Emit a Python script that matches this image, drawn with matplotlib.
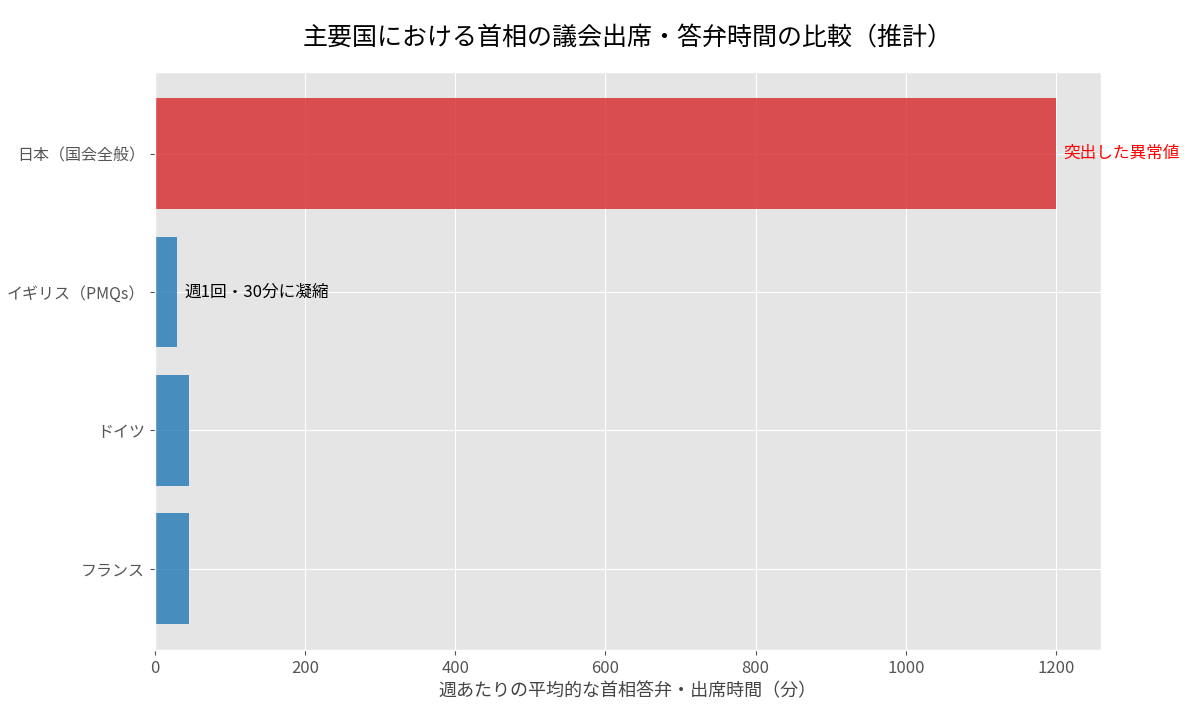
import matplotlib.pyplot as plt

plt.style.use("ggplot")
plt.rcParams["font.family"] = ["Noto Sans CJK JP", "DejaVu Sans"]

# Data
countries = ["日本（国会全般）", "イギリス（PMQs）", "ドイツ", "フランス"]
minutes = [1200, 30, 45, 45]
colors = ["#d62728", "#1f77b4", "#1f77b4", "#1f77b4"]
notes = {"日本（国会全般）": ("突出した異常値", "red"),
         "イギリス（PMQs）": ("週1回・30分に凝縮", "black")}

fig, ax = plt.subplots(figsize=(12, 7.2), dpi=100)
fig.subplots_adjust(left=0.129, right=0.9175, bottom=0.097, top=0.9)

ax.barh(countries, minutes, color=colors, alpha=0.8, height=0.8)
ax.invert_yaxis()
ax.set_xlim(0, max(minutes) * 1.05)

for name, val in zip(countries, minutes):
    if name in notes:
        txt, col = notes[name]
        ax.text(val + 10, countries.index(name), txt, va="center",
                fontsize=12, color=col)

ax.tick_params(axis="y", labelsize=11.5)
ax.tick_params(axis="x", labelsize=12)
ax.set_title("主要国における首相の議会出席・答弁時間の比較（推計）",
             fontsize=18, pad=20, color="black")
ax.set_xlabel("週あたりの平均的な首相答弁・出席時間（分）", fontsize=13, color="#444444")

plt.savefig("out.png")
